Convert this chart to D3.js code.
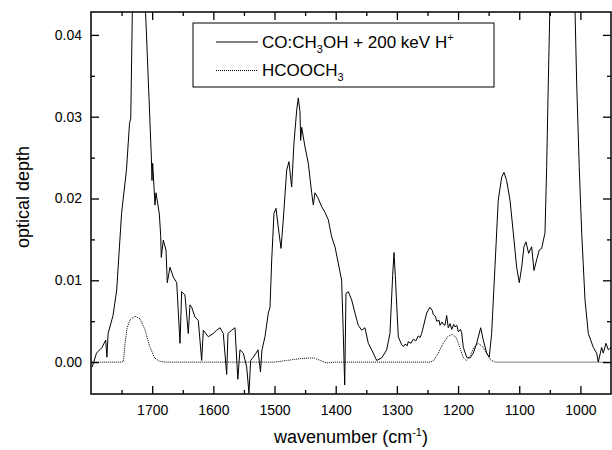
<!DOCTYPE html>
<html>
<head>
<meta charset="utf-8">
<script src="https://cdn.jsdelivr.net/npm/d3@7"></script>
<style>
  body { margin: 0; background: #fff; }
  svg { display: block; font-family: "Liberation Sans", Arial, sans-serif; }
</style>
</head>
<body>
<svg id="chart" width="612" height="450"></svg>
<script>
// CO:CH3OH irradiated with 200 keV H+ : [wavenumber, optical depth]
const irradiated = [
  [1798,-0.0006],[1791,0.0011],[1782,0.0018],[1776,0.0027],[1774,0.0006],[1772,0.0035],[1764,0.0057],
  [1758,0.0088],[1750,0.0182],[1742,0.0235],[1737,0.0292],[1735,0.0298],[1732,0.045],[1725,0.08],
  [1712,0.045],[1705,0.032],[1701.4,0.0251],[1700.3,0.0222],[1699.2,0.0243],[1697,0.0214],[1695.4,0.0192],
  [1693.8,0.0207],[1688.4,0.0182],[1686.1,0.0155],[1685.1,0.0128],[1681.8,0.0149],[1677.4,0.0137],
  [1675.3,0.0097],[1670.9,0.0116],[1665.5,0.0104],[1659.9,0.0097],[1654.5,0.0023],[1651.8,0.0086],
  [1646.4,0.0082],[1641,0.0035],[1638.2,0.007],[1635.4,0.0067],[1630,0.0055],[1624.6,0.0051],
  [1619.1,0.0002],[1616.4,0.0039],[1608.3,0.0031],[1600.1,0.0035],[1594.5,0.0039],[1589.1,0.0042],
  [1583.8,0.0035],[1578.2,-0.0015],[1576.1,0.0035],[1570,0.0039],[1564.6,0.0042],[1560,-0.0021],
  [1556.5,0.0015],[1551.1,0.0011],[1545.5,-0.0006],[1541.8,-0.0038],[1539,0.0002],[1534.7,0.0006],
  [1530.3,0.0011],[1527,0.0015],[1523,-0.0012],[1520.5,0.0015],[1515.6,0.0031],[1510.2,0.006],
  [1507.4,0.0067],[1504.6,0.0125],[1500.9,0.0182],[1497.6,0.0188],[1493.9,0.0165],[1489.4,0.0139],
  [1485.7,0.0174],[1480.1,0.0235],[1476.4,0.0245],[1472,0.0214],[1468.2,0.0268],[1463.8,0.0308],
  [1461.2,0.0323],[1458.4,0.0306],[1457.3,0.0271],[1455.6,0.0287],[1450.2,0.0263],[1444.8,0.0243],
  [1439.3,0.0207],[1436.6,0.0192],[1433.9,0.0207],[1428.5,0.02],[1422.9,0.019],[1417.5,0.0183],
  [1412.1,0.0174],[1406.6,0.0153],[1401.2,0.0141],[1395.8,0.0121],[1390.3,0.01],[1387.6,0.0035],
  [1385.3,-0.0028],[1383.2,0.0084],[1379.4,0.0086],[1373.9,0.0076],[1368.5,0.006],[1363.1,0.0045],
  [1357.5,0.0039],[1352.2,0.0042],[1346.7,0.0023],[1338.6,0.0011],[1333,0.0002],[1324.9,0.0005],
  [1316.7,0.0015],[1311.3,0.0035],[1306.9,0.0106],[1304.7,0.0134],[1302.6,0.0106],[1297.7,0.0031],
  [1292.1,0.0021],[1289,0.0019],[1286.7,0.0022],[1283,0.002],[1281.4,0.0025],[1277,0.0023],
  [1273.2,0.0028],[1269,0.0026],[1265,0.0032],[1262,0.003],[1259.5,0.0035],[1256.8,0.0043],
  [1251.3,0.006],[1245.9,0.0067],[1242,0.0063],[1240.5,0.0058],[1237,0.0056],[1234.9,0.005],
  [1231,0.0051],[1229.5,0.0045],[1226,0.0049],[1224.2,0.0046],[1221.4,0.0045],[1218.6,0.0057],
  [1216,0.0042],[1213,0.0047],[1210.4,0.004],[1207,0.0046],[1205,0.0043],[1202,0.0045],
  [1199.6,0.0037],[1196,0.004],[1194.1,0.0036],[1191.4,0.0018],[1185.9,0.0006],[1180.5,0.0005],
  [1175.1,0.0011],[1169.6,0.0023],[1163,0.0042],[1158.8,0.0027],[1153.2,0.0011],[1149,0.0006],
  [1145.1,0.0035],[1139.7,0.0116],[1134.3,0.0198],[1128.7,0.0226],[1125,0.0232],[1120.6,0.0222],
  [1115.1,0.0198],[1109.7,0.0158],[1104.2,0.0116],[1099.9,0.0097],[1096,0.0116],[1092.3,0.0141],
  [1089,0.0147],[1084.6,0.0133],[1079.7,0.0141],[1075.9,0.0112],[1071.5,0.0125],[1067.3,0.0137],
  [1063.3,0.0139],[1057.9,0.0158],[1055.2,0.0238],[1052.5,0.0341],[1048,0.05],[1030,0.1],[1011,0.05],
  [1006.1,0.0341],[1001.9,0.0238],[997.9,0.0158],[992.5,0.0076],[987.1,0.0035],[978.9,0.0018],
  [973.4,0.0011],[970.8,0],[965.3,0.0018],[962.6,0.0011],[958.2,0.0023],[954.4,0.0015],[950,0.0018]
];

// HCOOCH3 reference spectrum
const methylFormate = [
  [1798,0],[1750,0],[1747,0.0001],[1744,0.0025],[1741,0.0042],[1736,0.0052],[1728,0.0056],
  [1720,0.0053],[1712,0.004],[1704,0.0019],[1696,0.0005],[1688,0.0001],[1680,0],[1500,0],
  [1480,0.0002],[1460,0.0004],[1445,0.0005],[1435,0.0005],[1425,0.0002],[1415,-0.0001],[1400,0],
  [1245,0],[1240,0.0002],[1233,0.001],[1225,0.0022],[1217,0.0031],[1210,0.0034],[1203,0.003],
  [1197,0.0018],[1192,0.0006],[1186,0.0002],[1180,0.0008],[1174,0.0018],[1167,0.0023],[1160,0.0019],
  [1153,0.001],[1147,0.0003],[1140,0],[950,0]
];

const xTicks = [1700, 1600, 1500, 1400, 1300, 1200, 1100, 1000];
const xMinorTicks = [1750, 1650, 1550, 1450, 1350, 1250, 1150, 1050];
const yTicks = [0.00, 0.01, 0.02, 0.03, 0.04];
const yMinorTicks = [0.005, 0.015, 0.025, 0.035];

const svg = d3.select("#chart");
const plotLeft = 91, plotRight = 611, plotTop = 12, plotBottom = 394;

const x = d3.scaleLinear().domain([1800, 950]).range([plotLeft, plotRight]);
const y = d3.scaleLinear().domain([-0.0039, 0.0428]).range([plotBottom, plotTop]);

svg.append("clipPath").attr("id", "plotClip")
  .append("rect")
  .attr("x", plotLeft).attr("y", plotTop)
  .attr("width", plotRight - plotLeft).attr("height", plotBottom - plotTop);

const line = d3.line().x(d => x(d[0])).y(d => y(d[1]));

const plot = svg.append("g").attr("clip-path", "url(#plotClip)");

plot.append("path")
  .datum(methylFormate)
  .attr("d", line)
  .attr("fill", "none")
  .attr("stroke", "#000")
  .attr("stroke-width", 1)
  .attr("stroke-dasharray", "1,1");

plot.append("path")
  .datum(irradiated)
  .attr("d", line)
  .attr("fill", "none")
  .attr("stroke", "#000")
  .attr("stroke-width", 1);

// axes: major + minor ticks pointing inward on all four sides
function styleAxis(g) {
  g.select(".domain").remove();
  g.selectAll(".tick line").attr("stroke", "#000").attr("stroke-width", 1.3);
  g.selectAll(".tick text").attr("fill", "#000").style("font-size", "14px");
}

svg.append("g").attr("transform", `translate(0,${plotBottom})`)
  .call(d3.axisBottom(x).tickValues(xTicks).tickSize(-8).tickPadding(11).tickFormat(d3.format("d")))
  .call(styleAxis);
svg.append("g").attr("transform", `translate(0,${plotBottom})`)
  .call(d3.axisBottom(x).tickValues(xMinorTicks).tickSize(-4).tickFormat(""))
  .call(styleAxis);
svg.append("g").attr("transform", `translate(0,${plotTop})`)
  .call(d3.axisTop(x).tickValues(xTicks).tickSize(-8).tickFormat(""))
  .call(styleAxis);
svg.append("g").attr("transform", `translate(0,${plotTop})`)
  .call(d3.axisTop(x).tickValues(xMinorTicks).tickSize(-4).tickFormat(""))
  .call(styleAxis);

svg.append("g").attr("transform", `translate(${plotLeft},0)`)
  .call(d3.axisLeft(y).tickValues(yTicks).tickSize(-8).tickPadding(9).tickFormat(d3.format(".2f")))
  .call(styleAxis);
svg.append("g").attr("transform", `translate(${plotLeft},0)`)
  .call(d3.axisLeft(y).tickValues(yMinorTicks).tickSize(-4).tickFormat(""))
  .call(styleAxis);
svg.append("g").attr("transform", `translate(${plotRight},0)`)
  .call(d3.axisRight(y).tickValues(yTicks).tickSize(-8).tickFormat(""))
  .call(styleAxis);
svg.append("g").attr("transform", `translate(${plotRight},0)`)
  .call(d3.axisRight(y).tickValues(yMinorTicks).tickSize(-4).tickFormat(""))
  .call(styleAxis);

svg.append("rect")
  .attr("x", plotLeft).attr("y", plotTop)
  .attr("width", plotRight - plotLeft).attr("height", plotBottom - plotTop)
  .attr("fill", "none").attr("stroke", "#000").attr("stroke-width", 1.5);

// axis titles
const xTitle = svg.append("text")
  .attr("x", (plotLeft + plotRight) / 2).attr("y", 443)
  .attr("text-anchor", "middle").style("font-size", "18px");
xTitle.append("tspan").text("wavenumber (cm");
xTitle.append("tspan").attr("dy", -7).style("font-size", "11px").text("-1");
xTitle.append("tspan").attr("dy", 7).text(")");

svg.append("text")
  .attr("transform", "translate(29,197) rotate(-90)")
  .attr("text-anchor", "middle").style("font-size", "18px")
  .text("optical depth");

// legend
const legend = svg.append("g");
legend.append("rect")
  .attr("x", 193).attr("y", 23).attr("width", 301).attr("height", 64)
  .attr("fill", "#fff").attr("stroke", "#000").attr("stroke-width", 1);
legend.append("line").attr("x1", 216).attr("x2", 258).attr("y1", 42).attr("y2", 42)
  .attr("stroke", "#000").attr("stroke-width", 1);
legend.append("line").attr("x1", 216).attr("x2", 258).attr("y1", 70.5).attr("y2", 70.5)
  .attr("stroke", "#000").attr("stroke-width", 1).attr("stroke-dasharray", "1,1");

const l1 = legend.append("text").attr("x", 262).attr("y", 48).style("font-size", "17px");
l1.append("tspan").text("CO:CH");
l1.append("tspan").attr("dy", 5).style("font-size", "11px").text("3");
l1.append("tspan").attr("dy", -5).text("OH + 200 keV H");
l1.append("tspan").attr("dy", -7).style("font-size", "11px").text("+");

const l2 = legend.append("text").attr("x", 262).attr("y", 76).style("font-size", "17px");
l2.append("tspan").text("HCOOCH");
l2.append("tspan").attr("dy", 5).style("font-size", "11px").text("3");
</script>
</body>
</html>
